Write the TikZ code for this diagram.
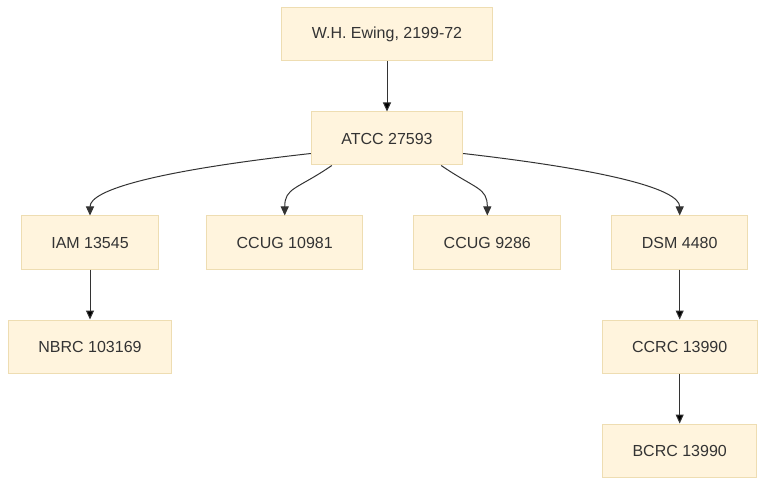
\documentclass[tikz,border=0pt]{standalone}
\usepackage{fontspec}
\setmainfont{Liberation Sans}
\usepackage{xcolor}
\usetikzlibrary{positioning,arrows.meta}
\definecolor{strainfill}{HTML}{FFF4DD}
\definecolor{strainline}{HTML}{EEDDB2}
\definecolor{ink}{HTML}{333333}
\tikzset{
	strain/.style={draw=strainline, fill=strainfill, line width=1pt, minimum height=53pt, inner xsep=30pt, text=ink, font=\fontsize{16}{19}\selectfont},
	link/.style={->, draw=ink, line width=1pt},
}

\begin{document}
\begin{tikzpicture}[x=1pt,y=-1pt,>={Triangle[length=9pt,width=8pt]}]
	\useasboundingbox (0,0) rectangle (765,486);
	\node[strain] at (387,34.5) (ewing) {W.H. Ewing, 2199-72};
	\node[strain,below=50pt of ewing] (atcc) {ATCC 27593};
	\node[strain] at (90,242.5) (iam) {IAM 13545};
	\node[strain,right=47pt of iam] (ccugA) {CCUG 10981};
	\node[strain,right=50pt of ccugA] (ccugB) {CCUG 9286};
	\node[strain,right=50pt of ccugB] (dsm) {DSM 4480};
	\node[strain,below=50pt of iam] (nbrc) {NBRC 103169};
	\node[strain,below=50pt of dsm] (ccrc) {CCRC 13990};
	\node[strain,below=50pt of ccrc] (bcrc) {BCRC 13990};

	\path[link] (ewing) edge (atcc);
	\draw[link] ([yshift=12pt]atcc.south west) .. controls +(-152,17) and +(0,-26) .. (iam.north);
	\draw[link] ([xshift=21pt]atcc.south west) .. controls +(-35,24) and +(0,-28) .. (ccugA.north);
	\draw[link] ([xshift=-22pt]atcc.south east) .. controls +(35,24) and +(0,-28) .. (ccugB.north);
	\draw[link] ([yshift=12pt]atcc.south east) .. controls +(148,17) and +(0,-26) .. (dsm.north);
	\path[link] (iam) edge (nbrc);
	\path[link] (dsm) edge (ccrc);
	\path[link] (ccrc) edge (bcrc);
\end{tikzpicture}
\end{document}
